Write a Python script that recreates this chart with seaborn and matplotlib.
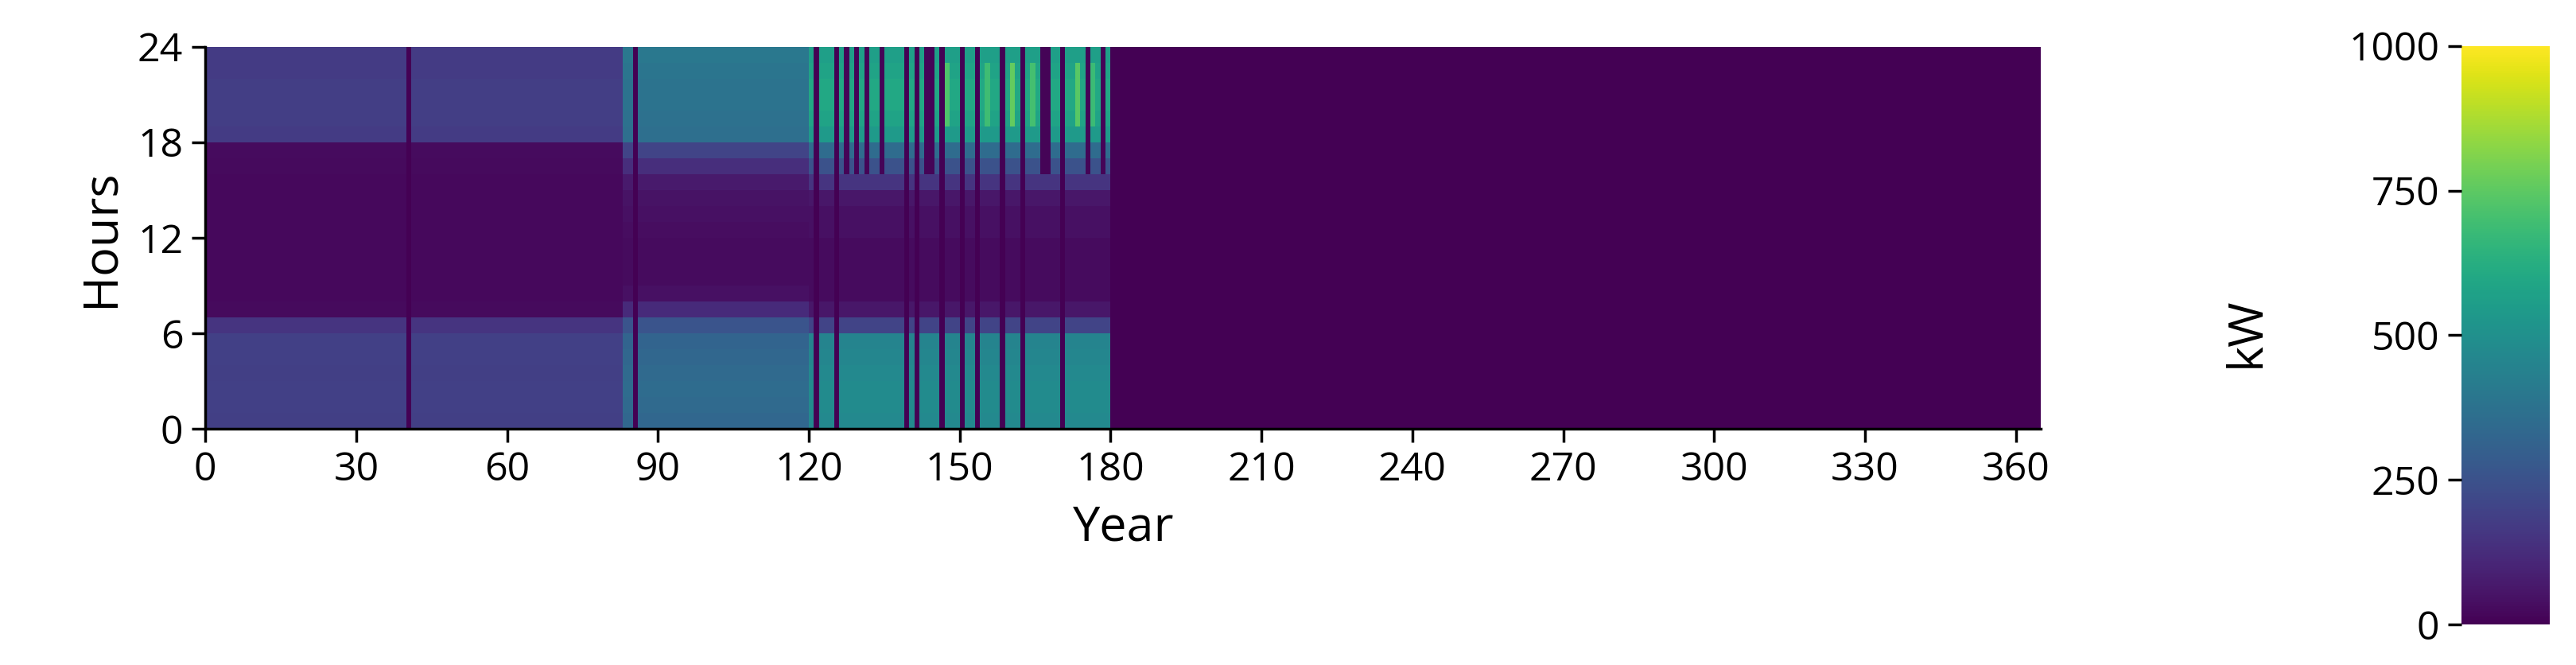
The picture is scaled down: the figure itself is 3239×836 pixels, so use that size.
import numpy as np
import pandas as pd
import seaborn as sns
import matplotlib
matplotlib.use("Agg")
import matplotlib.pyplot as plt

plt.rcParams['font.family'] = ['Open Sans', 'DejaVu Sans']

period_start = [0, 83, 120, 180]
period_end = [83, 120, 180, 365]
profile_winter = [185, 190, 190, 185, 190, 190, 150, 25, 20, 20, 20, 20, 20, 20, 20, 20, 25, 30, 175, 180, 180, 180, 175, 175]
profile_spring = [330, 340, 350, 340, 330, 320, 260, 120, 40, 30, 30, 30, 35, 40, 50, 70, 130, 200, 360, 370, 380, 380, 390, 400]
profile_summer = [470, 480, 480, 470, 460, 450, 200, 60, 30, 30, 30, 30, 40, 40, 60, 150, 250, 350, 540, 580, 600, 600, 580, 560]
profile_off = [0] * 24
dark_days = [40, 85, 121, 125, 139, 141, 146, 150, 153, 158, 162, 170]
evening_dark_days = [127, 129, 131, 134, 143, 144, 166, 167, 175, 178]
hot_days = [147, 155, 160, 164, 173, 176]
hot_kw = [720, 690, 760, 700, 740, 680]
hour_ticks = [0, 6, 12, 18, 24]
day_ticks = [0, 30, 60, 90, 120, 150, 180, 210, 240, 270, 300, 330, 360]
cbar_ticks = [0, 250, 500, 750, 1000]

profiles = [profile_winter, profile_spring, profile_summer, profile_off]
data = np.zeros((24, 365))
for s, e, p in zip(period_start, period_end, profiles):
    data[:, s:e] = np.array(p)[:, None]
for d in dark_days:
    data[:, d] = 0
for d in evening_dark_days:
    data[16:, d] = 10
for d, v in zip(hot_days, hot_kw):
    data[19:23, d] = v
df = pd.DataFrame(data)

fig = plt.figure(figsize=(32.39, 8.36), dpi=100)
ax = fig.add_axes([0.0797, 0.355, 0.7126, 0.575])
cax = fig.add_axes([0.9555, 0.061, 0.0343, 0.870])
sns.heatmap(df, ax=ax, cbar_ax=cax, cmap="viridis", vmin=0, vmax=1000,
            xticklabels=False, yticklabels=False)
ax.invert_yaxis()
ax.set_xticks(day_ticks)
ax.set_xticklabels([str(t) for t in day_ticks], fontsize=36, rotation=0)
ax.set_yticks(hour_ticks)
ax.set_yticklabels([str(t) for t in hour_ticks], fontsize=36, rotation=0)
ax.tick_params(length=12, width=2.5, color="black", pad=8)
for side in ["left", "bottom"]:
    ax.spines[side].set_visible(True)
    ax.spines[side].set_linewidth(2.5)
ax.set_xlabel("Year", fontsize=44, labelpad=12)
ax.set_ylabel("Hours", fontsize=44, labelpad=12)

cax.yaxis.set_ticks_position("left")
cax.set_yticks(cbar_ticks)
cax.set_yticklabels([str(t) for t in cbar_ticks], fontsize=36)
cax.tick_params(length=12, width=2.5, pad=8)
fig.text(0.872, 0.5, "kW", rotation=90, fontsize=44, ha="center", va="center")
fig.savefig("out.png", dpi=100)
